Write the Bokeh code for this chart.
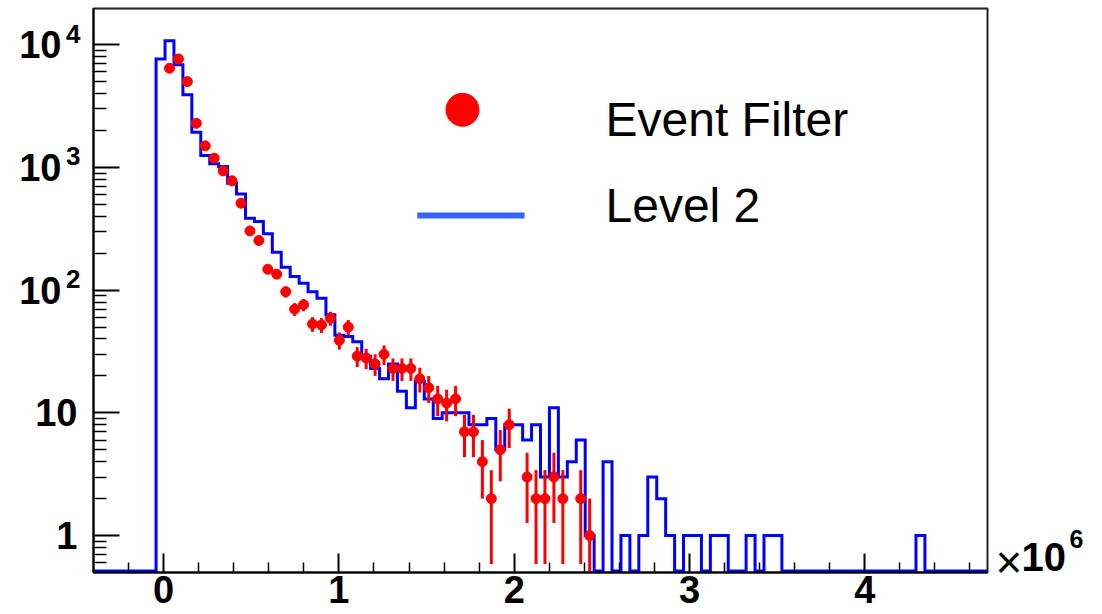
import numpy as np
from bokeh.plotting import figure
from bokeh.models import Range1d, FixedTicker, Label, LogAxis, CustomJSTickFormatter
from bokeh.embed import file_html
from bokeh.resources import INLINE

# ---------------- data (x in units of 10^6) ----------------
X_START, X_END, N_BINS = -0.4, 4.7, 100
Y_START, Y_END = 0.5, 19750

# Level 2 histogram: counts per bin (100 bins from -0.4 to 4.7)
level2 = [0, 0, 0, 0, 0, 0, 0, 7670, 10760, 6860,
          3910, 1937, 1250, 1070, 1017, 743, 609, 385, 362, 288,
          204, 154, 129, 114, 97, 86, 63, 43, 42, 38,
          29, 23, 19, 25, 15, 11, 18, 13, 9, 10,
          10, 10, 8, 8, 9, 5, 8, 8, 6, 8,
          3, 11, 3, 4, 6, 1, 0, 4, 0, 1,
          0, 1, 3, 2, 1, 0, 1, 1, 0, 1,
          1, 0, 0, 1, 0, 1, 1, 0, 0, 0,
          0, 0, 0, 0, 0, 0, 0, 0, 0, 0,
          0, 0, 1, 0, 0, 0, 0, 0, 0, 0]

# Event Filter: counts per bin (points with Poisson error bars)
event_filter = [0, 0, 0, 0, 0, 0, 0, 0, 6430, 7670,
                5010, 2290, 1500, 1190, 938, 778, 511, 304, 254, 148,
                135, 97, 70, 76, 53, 52, 59, 39, 50, 29,
                28, 25, 30, 23, 23, 23, 19, 16, 13, 12,
                13, 7, 7, 4, 2, 5, 8, 0, 3, 2,
                2, 3, 2, 0, 2, 1, 0, 0, 0, 0,
                0, 0, 0, 0, 0, 0, 0, 0, 0, 0,
                0, 0, 0, 0, 0, 0, 0, 0, 0, 0,
                0, 0, 0, 0, 0, 0, 0, 0, 0, 0,
                0, 0, 0, 0, 0, 0, 0, 0, 0, 0]

x_major_ticks = [0, 1, 2, 3, 4]
x_tick_labels = ["0", "1", "2", "3", "4"]
x_minor_ticks = [-0.2, 0.2, 0.4, 0.6, 0.8, 1.2, 1.4, 1.6, 1.8, 2.2, 2.4, 2.6, 2.8,
                 3.2, 3.4, 3.6, 3.8, 4.2, 4.4, 4.6]
y_major_ticks = [1, 10, 100, 1000, 10000]
y_tick_base = ["1", "10", "10", "10", "10"]
y_tick_exp = ["", "", "2", "3", "4"]
y_minor_ticks = [m * 10.0 ** d for d in range(-1, 5) for m in range(2, 10)
                 if 0.55 < m * 10.0 ** d < Y_END]
x_mult_parts = ["\u00d7", "10", "6"]

legend_labels = ["Event Filter", "Level 2"]

# ---------------- styles ----------------
RED = "#FF0000"
BLUE = "#0000FF"
LEG_BLUE = "#3366FF"
FONT = "Liberation Sans"
ZERO_LEVEL = 0.515      # where empty bins are drawn (just above the frame bottom)
SUP_SHIFT = 1.229       # vertical raise of exponent labels (log-axis factor)
MULT_Y = [0.614, 0.675, 0.931]   # vertical anchors of "x", "10", "6" right of the x axis
MULT_STANDOFF = [8, -4, 1]
MULT_SIZE = ["46px", "40px", "25px"]
MULT_STYLE = ["normal", "bold", "bold"]

JS_LOOKUP = ("const i = tv.findIndex(v => Math.abs(v - tick) <= 1e-9 * Math.max(1, Math.abs(v)));"
             " return i >= 0 ? tl[i] : '';")

# ---------------- figure ----------------
p = figure(width=1102, height=614, output_backend="svg", toolbar_location=None,
           x_range=Range1d(X_START, X_END), y_range=Range1d(Y_START, Y_END),
           y_axis_type="log",
           min_border_left=93, min_border_right=115, min_border_top=8, min_border_bottom=42)
p.background_fill_color = "white"
p.border_fill_color = "white"
p.outline_line_color = "#222222"
p.outline_line_width = 2
p.xgrid.visible = False
p.ygrid.visible = False

p.xaxis.ticker = FixedTicker(ticks=x_major_ticks, minor_ticks=x_minor_ticks)
p.yaxis.ticker = FixedTicker(ticks=y_major_ticks, minor_ticks=y_minor_ticks)
p.xaxis.formatter = CustomJSTickFormatter(args=dict(tv=x_major_ticks, tl=x_tick_labels), code=JS_LOOKUP)
p.yaxis.formatter = CustomJSTickFormatter(code="return '';")
for ax in (p.xaxis, p.yaxis):
    ax.axis_line_width = 2
    ax.axis_line_color = "black"
    ax.major_tick_out = 0
    ax.minor_tick_out = 0
    ax.major_tick_line_width = 2
    ax.minor_tick_line_width = 1.5
    ax.major_tick_line_color = "black"
    ax.minor_tick_line_color = "black"
    ax.major_label_text_font = FONT
    ax.major_label_text_font_style = "bold"
    ax.major_label_text_color = "black"
p.xaxis.major_tick_in = 19
p.xaxis.minor_tick_in = 10
p.yaxis.major_tick_in = 26
p.yaxis.minor_tick_in = 13
p.yaxis.major_label_standoff = 0
# x tick labels: bold, just below the axis (the blank axis title keeps the bottom border compact)
p.xaxis.major_label_text_font_size = "38px"
p.xaxis.major_label_standoff = 3
p.xaxis.axis_label = "\u00a0"
p.xaxis.axis_label_text_font_size = "1px"
p.xaxis.axis_label_standoff = -20


def label_axis(ticks, labels, size, standoff, style="bold"):
    return LogAxis(ticker=FixedTicker(ticks=list(ticks), minor_ticks=[]),
                   formatter=CustomJSTickFormatter(args=dict(tv=list(ticks), tl=list(labels)), code=JS_LOOKUP),
                   axis_line_color=None, major_tick_in=0, major_tick_out=0,
                   minor_tick_in=0, minor_tick_out=0, major_label_standoff=standoff,
                   major_label_text_font=FONT, major_label_text_font_style=style,
                   major_label_text_font_size=size, major_label_text_color="black")


# y tick labels (ROOT style "10" with raised exponent), stacked label axes on the left
exp_ticks = [v for v, e in zip(y_major_ticks, y_tick_exp) if e]
exp_base = [b for b, e in zip(y_tick_base, y_tick_exp) if e]
exp_text = [e for e in y_tick_exp if e]
plain_ticks = [v for v, e in zip(y_major_ticks, y_tick_exp) if not e]
plain_text = [b for b, e in zip(y_tick_base, y_tick_exp) if not e]
p.add_layout(label_axis([v * SUP_SHIFT for v in exp_ticks], exp_text, "26px", 13), "left")
p.add_layout(label_axis(plain_ticks, plain_text, "38px", -14), "left")
p.add_layout(label_axis(exp_ticks, exp_base, "38px", -29), "left")

# x10^6 multiplier right of the x axis
for part, yv, so, sz, st in zip(x_mult_parts, MULT_Y, MULT_STANDOFF, MULT_SIZE, MULT_STYLE):
    p.add_layout(label_axis([yv], [part], sz, so, st), "right")

# ---------------- Level 2 histogram (step line) ----------------
edges = X_START + (X_END - X_START) / N_BINS * np.arange(N_BINS + 1)
centers = 0.5 * (edges[:-1] + edges[1:])
l2 = np.array(level2, dtype=float)
step_x = np.repeat(edges, 2)[1:-1]
step_y = np.repeat(np.where(l2 > 0, l2, ZERO_LEVEL), 2)
p.line(step_x, step_y, line_color=BLUE, line_width=3, line_join="miter")

# ---------------- Event Filter points ----------------
ef = np.array(event_filter, dtype=float)
m = ef > 0
cx = centers[m]
cy = ef[m]
err = np.sqrt(cy)
lo = np.where(cy - err > 0, cy - err, Y_START * 0.5)
hi = cy + err
p.segment(cx, lo, cx, hi, line_color=RED, line_width=3)
p.segment(edges[:-1][m], cy, edges[1:][m], cy, line_color=RED, line_width=2)
p.scatter(cx, cy, marker="circle", size=10, fill_color=RED, line_color=RED)

# ---------------- legend (drawn by hand, like the original slide) ----------------
p.scatter([1.705], [2951], marker="circle", size=33, fill_color=RED, line_color=RED)
p.line([1.447, 2.059], [406, 406], line_color=LEG_BLUE, line_width=6)
p.add_layout(Label(x=2.521, y=2483, text=legend_labels[0], text_font=FONT,
                   text_font_size="48px", text_color="black", text_baseline="middle"))
p.add_layout(Label(x=2.521, y=488, text=legend_labels[1], text_font=FONT,
                   text_font_size="48px", text_color="black", text_baseline="middle"))

open("out.html", "w", encoding="utf-8").write(file_html(p, INLINE))
